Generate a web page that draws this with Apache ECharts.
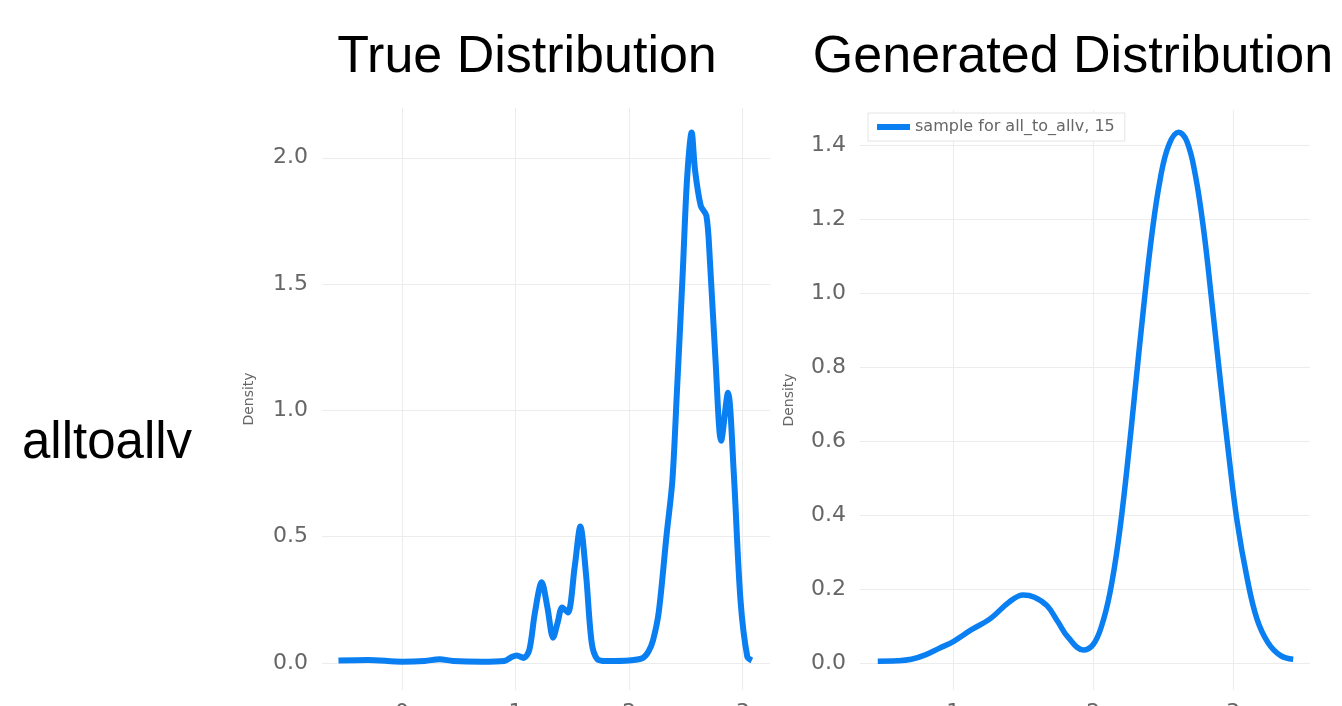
<!DOCTYPE html>
<html>
<head>
<meta charset="utf-8">
<script src="https://cdn.jsdelivr.net/npm/echarts@6/dist/echarts.min.js"></script>
<style>
  html, body { margin: 0; padding: 0; background: #fff; }
  #main { width: 1342px; height: 706px; }
</style>
</head>
<body>
<div id="main"></div>
<script>
// true distribution (density curve), [x, density]
const trueCurve = [
  [-0.56, 0.01], [-0.3, 0.012], [0, 0.005], [0.2, 0.008], [0.33, 0.015], [0.45, 0.008],
  [0.7, 0.005], [0.9, 0.008], [0.97, 0.025], [1.01, 0.03], [1.07, 0.02], [1.12, 0.05],
  [1.17, 0.2], [1.23, 0.32], [1.28, 0.22], [1.33, 0.10], [1.37, 0.16], [1.41, 0.22],
  [1.46, 0.2], [1.52, 0.38], [1.57, 0.54], [1.62, 0.35], [1.67, 0.08], [1.72, 0.015],
  [1.8, 0.008], [2.0, 0.01], [2.12, 0.02], [2.17, 0.045], [2.21, 0.09], [2.26, 0.2],
  [2.33, 0.51], [2.38, 0.72], [2.42, 1.07], [2.47, 1.53], [2.51, 1.92], [2.55, 2.10],
  [2.58, 1.95], [2.63, 1.81], [2.68, 1.77], [2.71, 1.60], [2.76, 1.20], [2.81, 0.88],
  [2.87, 1.07], [2.92, 0.76], [2.98, 0.25], [3.04, 0.025], [3.08, 0.01]
];
// generated distribution
const genCurve = [
  [0.46, 0.005], [0.6, 0.006], [0.7, 0.01], [0.8, 0.022], [0.9, 0.04], [1.0, 0.058],
  [1.13, 0.09], [1.265, 0.12], [1.4, 0.165], [1.5, 0.184], [1.58, 0.178], [1.67, 0.155],
  [1.75, 0.11], [1.82, 0.07], [1.93, 0.035], [2.0, 0.05], [2.06, 0.1], [2.12, 0.19],
  [2.18, 0.33], [2.24, 0.52], [2.30, 0.74], [2.36, 0.96], [2.42, 1.16], [2.48, 1.31],
  [2.54, 1.40], [2.61, 1.435], [2.67, 1.41], [2.73, 1.32], [2.79, 1.17], [2.85, 0.97],
  [2.91, 0.76], [2.97, 0.56], [3.03, 0.38], [3.1, 0.23], [3.17, 0.12], [3.25, 0.055],
  [3.34, 0.02], [3.43, 0.01]
];
const legendName = 'sample for all_to_allv, 15';
const titles = ['True Distribution', 'Generated Distribution'];
const rowLabel = 'alltoallv';
const yName = 'Density';

const blue = '#0a7ff2';
const gridColor = '#ececec';
const tickFont = { color: '#666', fontSize: 22, fontFamily: 'DejaVu Sans' };

function xAxis(idx, min, max) {
  return {
    type: 'value', gridIndex: idx, min: min, max: max, minInterval: 1, maxInterval: 1,
    axisLine: { show: false }, axisTick: { show: false },
    axisLabel: Object.assign({ margin: 12, showMinLabel: false, showMaxLabel: false,
      formatter: v => Number.isInteger(v) ? String(v) : '' }, tickFont),
    splitLine: { show: true, showMinLine: false, showMaxLine: false,
      lineStyle: { color: gridColor, width: 1 } }
  };
}
function yAxis(idx, min, max, step, gap) {
  return {
    type: 'value', gridIndex: idx, min: min, max: max, minInterval: step, maxInterval: step,
    name: yName, nameLocation: 'middle', nameGap: gap, nameRotate: 90,
    nameTextStyle: { color: '#666', fontSize: 14, fontFamily: 'DejaVu Sans' },
    axisLine: { show: false }, axisTick: { show: false },
    axisLabel: Object.assign({ margin: 14, showMinLabel: false, showMaxLabel: false,
      formatter: v => v.toFixed(1) }, tickFont),
    splitLine: { show: true, showMinLine: false, showMaxLine: false,
      lineStyle: { color: gridColor, width: 1 } }
  };
}

const chart = echarts.init(document.getElementById('main'));
chart.setOption({
  backgroundColor: '#fff',
  animation: false,
  grid: [
    { left: 322, top: 108, width: 448, height: 582, outerBoundsMode: 'none', containLabel: false },
    { left: 860, top: 110, width: 450, height: 580, outerBoundsMode: 'none', containLabel: false }
  ],
  xAxis: [xAxis(0, -0.705, 3.24), xAxis(1, 0.333, 3.55)],
  yAxis: [yAxis(0, -0.107, 2.197, 0.5, 66), yAxis(1, -0.073, 1.495, 0.2, 64)],
  legend: {
    data: [legendName], left: 868, top: 113, padding: [6, 10, 6, 9], itemGap: 8,
    backgroundColor: '#fff', borderColor: '#e4e4e4', borderWidth: 1,
    itemWidth: 33, itemHeight: 6, icon: 'rect',
    textStyle: { color: '#666', fontSize: 16, fontFamily: 'DejaVu Sans' }
  },
  series: [
    { name: 'true', type: 'line', xAxisIndex: 0, yAxisIndex: 0, data: trueCurve,
      smooth: 0.3, showSymbol: false, lineStyle: { color: blue, width: 6 } },
    { name: legendName, type: 'line', xAxisIndex: 1, yAxisIndex: 1, data: genCurve,
      smooth: 0.4, showSymbol: false, itemStyle: { color: blue },
      lineStyle: { color: blue, width: 5.5 } }
  ],
  graphic: [
    { type: 'text', x: 527, y: 58, style: { text: titles[0], fill: '#000',
      font: '52px "Liberation Sans"', textAlign: 'center', textVerticalAlign: 'middle' } },
    { type: 'text', x: 1073, y: 58, style: { text: titles[1], fill: '#000',
      font: '52px "Liberation Sans"', textAlign: 'center', textVerticalAlign: 'middle' } },
    { type: 'text', x: 22, y: 444, style: { text: rowLabel, fill: '#000',
      font: '51px "Liberation Sans"', textAlign: 'left', textVerticalAlign: 'middle' } }
  ]
});
</script>
</body>
</html>
